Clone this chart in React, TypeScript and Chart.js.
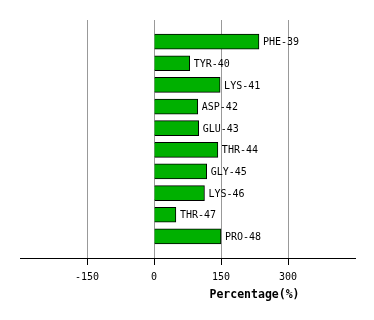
import React, { useEffect, useRef } from "react";
import { Chart, registerables } from "chart.js";

Chart.register(...registerables);

const categories = ["PHE-39", "TYR-40", "LYS-41", "ASP-42", "GLU-43", "THR-44", "GLY-45", "LYS-46", "THR-47", "PRO-48"];
const percentages = [235, 80, 148, 98, 100, 143, 118, 113, 49, 150];
const xTicks = [-150, 0, 150, 300];
const xMin = -300;
const xMax = 450;
const axisTitle = "Percentage(%)";

const MONO = "'DejaVu Sans Mono', monospace";

export default function App() {
  const ref = useRef<HTMLCanvasElement | null>(null);

  useEffect(() => {
    document.body.style.margin = "0";
    const canvas = ref.current;
    if (!canvas) return;

    const labels = ["", ...categories, ""];
    const values = [null, ...percentages, null];

    const barLabels = {
      id: "barLabels",
      afterDatasetsDraw(chart: any) {
        const ctx = chart.ctx;
        const meta = chart.getDatasetMeta(0);
        ctx.save();
        ctx.font = `10px ${MONO}`;
        ctx.fillStyle = "#000";
        ctx.textBaseline = "middle";
        ctx.textAlign = "left";
        meta.data.forEach((el: any, i: number) => {
          const lbl = labels[i];
          if (!lbl) return;
          ctx.fillText(lbl, el.x + 4, el.y + 1);
        });
        ctx.restore();
      },
    };

    const titlePlugin = {
      id: "xTitle",
      afterDraw(chart: any) {
        const ctx = chart.ctx;
        const xs = chart.scales.x;
        ctx.save();
        ctx.font = `bold 11.5px ${MONO}`;
        ctx.fillStyle = "#000";
        ctx.textAlign = "center";
        ctx.textBaseline = "middle";
        ctx.fillText(axisTitle, xs.getPixelForValue(225), 295);
        ctx.restore();
      },
    };

    const chart = new Chart(canvas, {
      type: "bar",
      data: {
        labels,
        datasets: [
          {
            data: values as any,
            backgroundColor: "#00b000",
            borderColor: "#000",
            borderWidth: 1,
            barThickness: 15,
          },
        ],
      },
      options: {
        indexAxis: "y",
        responsive: false,
        animation: false,
        layout: { padding: { left: 20, right: 19, top: 20, bottom: 31 } },
        plugins: { legend: { display: false }, tooltip: { enabled: false } },
        scales: {
          x: {
            type: "linear",
            min: xMin,
            max: xMax,
            afterBuildTicks: (scale: any) => {
              scale.ticks = xTicks.map((v) => ({ value: v }));
            },
            grid: {
              color: "#999",
              tickColor: "#000",
              tickLength: 7,
              drawOnChartArea: true,
            },
            border: { color: "#000", width: 1 },
            ticks: {
              color: "#000",
              font: { family: MONO, size: 10 },
              padding: 6,
              maxRotation: 0,
              callback: (v: any) => String(v),
            },
          },
          y: {
            type: "category",
            display: false,
            offset: false,
            grid: { display: false },
          },
        },
      },
      plugins: [barLabels, titlePlugin],
    });

    return () => chart.destroy();
  }, []);

  return <canvas ref={ref} width={374} height={320} style={{ display: "block" }} />;
}
